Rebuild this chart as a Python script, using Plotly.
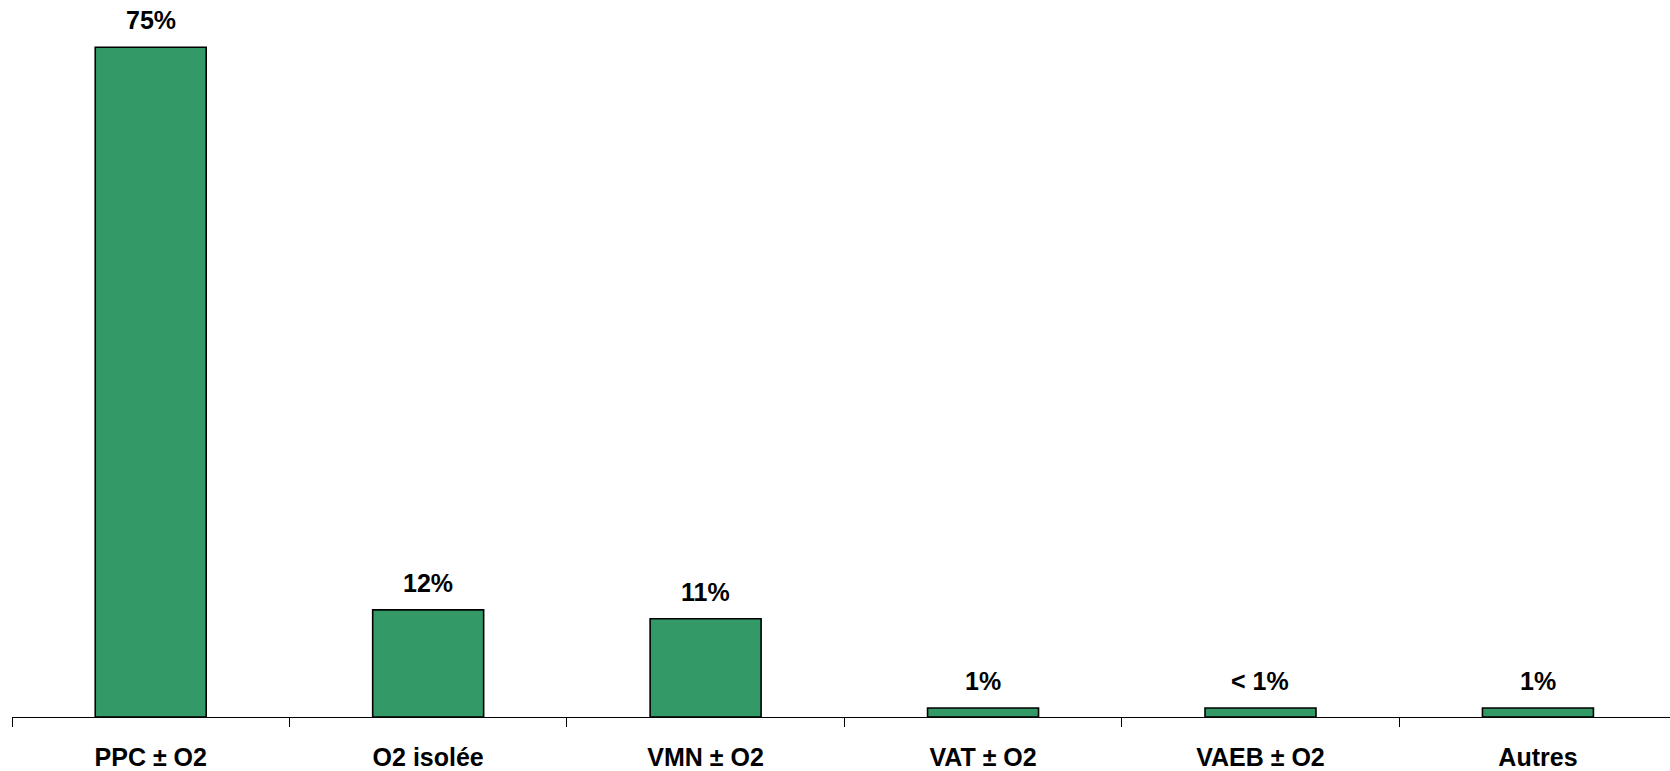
import plotly.graph_objects as go

categories = ["PPC ± O2", "O2 isolée", "VMN ± O2", "VAT ± O2", "VAEB ± O2", "Autres"]
values = [75, 12, 11, 1, 1, 1]
value_labels = ["75%", "12%", "11%", "1%", "< 1%", "1%"]

FONT = "Liberation Sans, Arial, sans-serif"
BAR_COLOR = "#339966"

fig = go.Figure()
fig.add_trace(go.Bar(
    x=categories,
    y=values,
    width=0.4,
    marker=dict(color=BAR_COLOR, line=dict(color="black", width=1.6)),
    hoverinfo="skip",
))

for cat, val, lab in zip(categories, values, value_labels):
    fig.add_annotation(
        x=cat, y=val, text=f"<b>{lab}</b>", showarrow=False,
        xref="x", yref="y", yanchor="middle", yshift=27,
        font=dict(family=FONT, size=25, color="black"),
    )

fig.update_layout(
    width=1670, height=771,
    margin=dict(l=12, r=0, t=0, b=54),
    paper_bgcolor="white", plot_bgcolor="white",
    showlegend=False,
    font=dict(family=FONT, size=25, color="black"),
)
fig.update_xaxes(
    type="category",
    range=[-0.5, 5.476],
    showline=True, linecolor="black", linewidth=1.3,
    ticks="outside", ticklen=9, tickcolor="black", tickwidth=1,
    tickson="boundaries",
    ticklabelstandoff=18,
    tickfont=dict(family=FONT, size=25, color="black", weight="bold"),
    showgrid=False, zeroline=False,
)
fig.update_yaxes(
    range=[0, 80.3],
    visible=False, showgrid=False, zeroline=False,
)

fig.write_html(
    "out.html",
    config={"displayModeBar": False},
    post_script="document.body.style.margin='0';document.body.style.overflow='hidden';",
)
